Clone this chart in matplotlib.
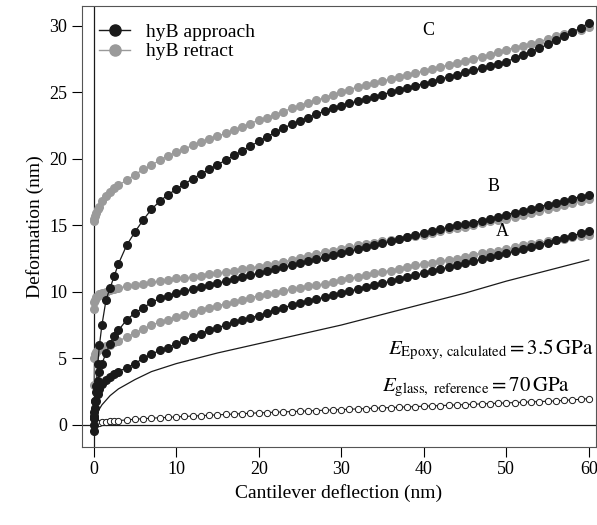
import matplotlib
matplotlib.use("Agg")
import matplotlib.pyplot as plt

plt.rcParams["font.family"] = ["Liberation Serif", "DejaVu Serif"]
plt.rcParams["mathtext.fontset"] = "stix"

# deflection grid (nm): fine near contact, 1 nm steps from 10 nm
x = [0, 0.1, 0.2, 0.3, 0.5, 0.7, 1, 1.5, 2, 2.5, 3, 4, 5, 6, 7, 8, 9] + list(range(10, 61))

c_app = [-0.5, 0.5, 1.8, 2.9, 4.6, 6, 7.5, 9.4, 10.3, 11.2, 12.1, 13.5, 14.5,
         15.4, 16.2, 16.8, 17.3,
         17.7, 18.1, 18.5, 18.85, 19.2, 19.55, 19.9, 20.25, 20.6, 20.95, 21.3,
         21.65, 22, 22.3, 22.6, 22.85, 23.1, 23.35, 23.6, 23.8, 24, 24.17,
         24.33, 24.5, 24.66, 24.83, 25, 25.16, 25.32, 25.5, 25.65, 25.8, 26,
         26.15, 26.3, 26.5, 26.65, 26.8, 27, 27.15, 27.3, 27.55, 27.8, 28.05,
         28.3, 28.6, 28.9, 29.2, 29.5, 29.85, 30.2]
c_ret = [15.3, 15.5, 15.7, 15.9, 16.2, 16.4, 16.8, 17.2, 17.5, 17.8, 18, 18.4,
         18.8, 19.2, 19.5, 19.9, 20.2,
         20.5, 20.75, 21, 21.25, 21.5, 21.7, 21.9, 22.15, 22.4, 22.65, 22.9,
         23.1, 23.3, 23.55, 23.8, 24, 24.2, 24.4, 24.6, 24.8, 25, 25.2, 25.4,
         25.55, 25.7, 25.85, 26, 26.15, 26.3, 26.45, 26.6, 26.75, 26.9, 27.05,
         27.2, 27.35, 27.5, 27.65, 27.8, 28, 28.2, 28.35, 28.5, 28.65, 28.8,
         29, 29.2, 29.35, 29.5, 29.7, 29.9]
b_app = [0.5, 1, 1.8, 2.5, 3.3, 4, 4.6, 5.4, 6.1, 6.7, 7.1, 7.9, 8.4, 8.8, 9.2,
         9.5, 9.7,
         9.9, 10.05, 10.2, 10.35, 10.5, 10.65, 10.8, 10.95, 11.1, 11.25, 11.4,
         11.55, 11.7, 11.85, 12, 12.15, 12.3, 12.45, 12.6, 12.75, 12.9, 13.05,
         13.2, 13.35, 13.5, 13.65, 13.8, 13.95, 14.1, 14.25, 14.4, 14.55, 14.7,
         14.85, 15, 15.1, 15.2, 15.35, 15.5, 15.65, 15.8, 15.95, 16.1, 16.25,
         16.4, 16.55, 16.7, 16.85, 17, 17.15, 17.3]
b_ret = [8.7, 9.2, 9.4, 9.6, 9.7, 9.8, 9.9, 10, 10.1, 10.2, 10.3, 10.4, 10.5,
         10.6, 10.7, 10.8, 10.9,
         11, 11.05, 11.1, 11.2, 11.3, 11.4, 11.5, 11.6, 11.7, 11.8, 11.9, 12,
         12.1, 12.25, 12.4, 12.55, 12.7, 12.85, 13, 13.1, 13.2, 13.35, 13.5,
         13.6, 13.7, 13.8, 13.9, 14, 14.1, 14.2, 14.3, 14.45, 14.6, 14.7, 14.8,
         14.9, 15, 15.15, 15.3, 15.4, 15.5, 15.65, 15.8, 15.95, 16.1, 16.25,
         16.4, 16.55, 16.7, 16.85, 17]
a_app = [0, 0.7, 1.3, 1.8, 2.3, 2.7, 3.1, 3.4, 3.6, 3.8, 4, 4.3, 4.6, 5, 5.3,
         5.6, 5.8,
         6.1, 6.35, 6.6, 6.85, 7.1, 7.3, 7.5, 7.7, 7.9, 8.05, 8.2, 8.4, 8.6,
         8.8, 9, 9.15, 9.3, 9.45, 9.6, 9.75, 9.9, 10.05, 10.2, 10.35, 10.5,
         10.65, 10.8, 10.95, 11.1, 11.25, 11.4, 11.55, 11.7, 11.85, 12, 12.15,
         12.3, 12.45, 12.6, 12.75, 12.9, 13.05, 13.2, 13.35, 13.5, 13.7, 13.9,
         14.05, 14.2, 14.4, 14.6]
a_ret = [3, 5, 5.3, 5.5, 5.6, 5.7, 5.8, 5.9, 6, 6.2, 6.3, 6.6, 6.9, 7.2, 7.5,
         7.7, 7.9,
         8.1, 8.25, 8.4, 8.6, 8.8, 8.95, 9.1, 9.25, 9.4, 9.55, 9.7, 9.8, 9.9,
         10.05, 10.2, 10.3, 10.4, 10.5, 10.6, 10.75, 10.9, 11, 11.1, 11.25,
         11.4, 11.5, 11.6, 11.75, 11.9, 12, 12.1, 12.2, 12.3, 12.4, 12.5,
         12.65, 12.8, 12.9, 13, 13.1, 13.2, 13.35, 13.5, 13.6, 13.7, 13.8,
         13.9, 14, 14.1, 14.2, 14.3]
glass = [0, 0.05, 0.08, 0.1, 0.13, 0.16, 0.2, 0.24, 0.27, 0.3, 0.32, 0.37,
         0.42, 0.46, 0.5, 0.53, 0.56,
         0.6, 0.63, 0.66, 0.69, 0.72, 0.75, 0.78, 0.81, 0.84, 0.87, 0.9, 0.92,
         0.95, 0.97, 1, 1.02, 1.05, 1.07, 1.1, 1.12, 1.15, 1.17, 1.2, 1.22,
         1.25, 1.27, 1.3, 1.32, 1.35, 1.37, 1.4, 1.42, 1.45, 1.47, 1.5, 1.52,
         1.55, 1.57, 1.6, 1.62, 1.65, 1.67, 1.7, 1.72, 1.75, 1.77, 1.8, 1.84,
         1.88, 1.92, 1.97]

model_x = [0, 0.5, 1, 2, 3, 5, 7, 10, 15, 20, 25, 30, 35, 40, 45, 50, 55, 60]
model_y = [0, 1, 1.5, 2.2, 2.7, 3.4, 4.0, 4.6, 5.4, 6.1, 6.8, 7.5, 8.3, 9.1,
           9.9, 10.8, 11.6, 12.4]

black = "#1a1a1a"
grey = "#9a9a9a"

fig = plt.figure(figsize=(5.97, 5.25), dpi=100)
ax = fig.add_axes([0.137, 0.149, 0.861, 0.840])

ax.axhline(0, color=black, lw=0.9, zorder=1)
ax.axvline(0, color=black, lw=0.9, zorder=1)

ax.plot(model_x, model_y, "-", color=black, lw=0.9)
ax.plot(x, glass, "o-", color=black, mfc="white", ms=4.5, lw=0.8, mew=0.7)

for ret in (a_ret, b_ret, c_ret):
    ax.plot(x, ret, "o-", color=grey, ms=5.5, lw=0.9)
for app in (a_app, b_app, c_app):
    ax.plot(x, app, "o-", color=black, ms=5.5, lw=0.9)

ax.plot([], [], "o-", color=black, ms=8, lw=1, label="hyB approach")
ax.plot([], [], "o-", color=grey, ms=8, lw=1, label="hyB retract")
ax.legend(loc="upper left", frameon=False, fontsize=14, handlelength=1.6,
          borderaxespad=0.5, labelspacing=0.1)

ax.text(40.5, 29.3, "C", fontsize=13, ha="center")
ax.text(48.5, 17.6, "B", fontsize=13, ha="center")
ax.text(49.5, 14.2, "A", fontsize=13, ha="center")
ax.text(60.6, 5.3, r"$E_{\mathrm{Epoxy,\,calculated}}=3.5\,\mathrm{GPa}$",
        fontsize=15, ha="right")
ax.text(57.8, 2.5, r"$E_{\mathrm{glass,\ reference}}=70\,\mathrm{GPa}$",
        fontsize=15, ha="right")

ax.set_xlim(-1.44, 60.85)
ax.set_ylim(-1.65, 31.5)
ax.set_xticks([0, 10, 20, 30, 40, 50, 60])
ax.set_yticks([0, 5, 10, 15, 20, 25, 30])
ax.tick_params(labelsize=13, direction="out", length=7)
ax.set_xlabel("Cantilever deflection (nm)", fontsize=14)
ax.set_ylabel("Deformation (nm)", fontsize=14)
for s in ax.spines.values():
    s.set_color("#555555")

fig.savefig("out.png", dpi=100)
